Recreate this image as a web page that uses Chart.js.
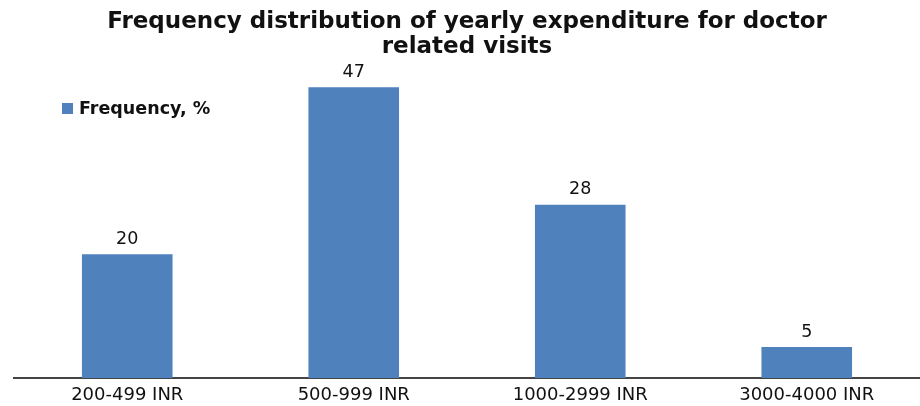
<!DOCTYPE html>
<html lang="en">
<head>
  <meta charset="UTF-8" />
  <title>Yearly expenditure for doctor visits</title>
  <style>
    html, body {
      margin: 0;
      padding: 0;
      background: #fff;
    }
    #wrap {
      width: 920px;
      height: 406px;
    }
  </style>
  <script src="https://cdn.jsdelivr.net/npm/chart.js"></script>
</head>
<body>
  <div id="wrap"><canvas id="chart" width="920" height="406"></canvas></div>

  <script>
    const categories = ['200-499 INR', '500-999 INR', '1000-2999 INR', '3000-4000 INR'];
    const frequency = [20, 47, 28, 5];
    const seriesLabel = 'Frequency, %';
    const titleLines = ['Frequency distribution of yearly expenditure for doctor', 'related visits'];

    const barColor = '#4F81BD';
    const fontFamily = '"DejaVu Sans", Verdana, sans-serif';

    // value printed above each bar
    const valueLabels = {
      id: 'valueLabels',
      afterDatasetsDraw(chart) {
        const ctx = chart.ctx;
        const meta = chart.getDatasetMeta(0);
        ctx.save();
        ctx.font = '17.5px ' + fontFamily;
        ctx.fillStyle = '#111';
        ctx.textAlign = 'center';
        ctx.textBaseline = 'middle';
        meta.data.forEach((bar, i) => {
          ctx.fillText(chart.data.datasets[0].data[i], bar.x, bar.y - 15);
        });
        ctx.restore();
      }
    };

    // legend sitting inside the plot, top left
    const insideLegend = {
      id: 'insideLegend',
      afterDraw(chart) {
        const ctx = chart.ctx;
        const x = 62, y = 109;
        ctx.save();
        ctx.fillStyle = barColor;
        ctx.fillRect(x, y - 6, 11, 11);
        ctx.font = 'bold 17.5px ' + fontFamily;
        ctx.fillStyle = '#111';
        ctx.textBaseline = 'middle';
        ctx.fillText(chart.data.datasets[0].label, x + 17, y);
        ctx.restore();
      }
    };

    new Chart(document.getElementById('chart'), {
      type: 'bar',
      data: {
        labels: categories,
        datasets: [{
          label: seriesLabel,
          data: frequency,
          backgroundColor: barColor,
          borderWidth: 0,
          categoryPercentage: 1,
          barPercentage: 0.4
        }]
      },
      options: {
        responsive: false,
        animation: false,
        layout: {
          padding: { left: 14, right: 0, top: 0, bottom: 2 }
        },
        plugins: {
          legend: { display: false },
          tooltip: { enabled: false },
          title: {
            display: true,
            text: titleLines,
            color: '#111',
            font: { family: fontFamily, size: 23, weight: 'bold', lineHeight: 1.1 },
            padding: { top: 9, bottom: 9 }
          }
        },
        scales: {
          x: {
            grid: { display: false, drawTicks: false },
            border: { display: true, color: '#444', width: 2 },
            ticks: {
              color: '#111',
              padding: 7,
              font: { family: fontFamily, size: 18 }
            },
            afterFit(scale) {
              scale.height = 26;
            }
          },
          y: {
            display: false,
            min: 0,
            max: 50
          }
        }
      },
      plugins: [valueLabels, insideLegend]
    });
  </script>
</body>
</html>
